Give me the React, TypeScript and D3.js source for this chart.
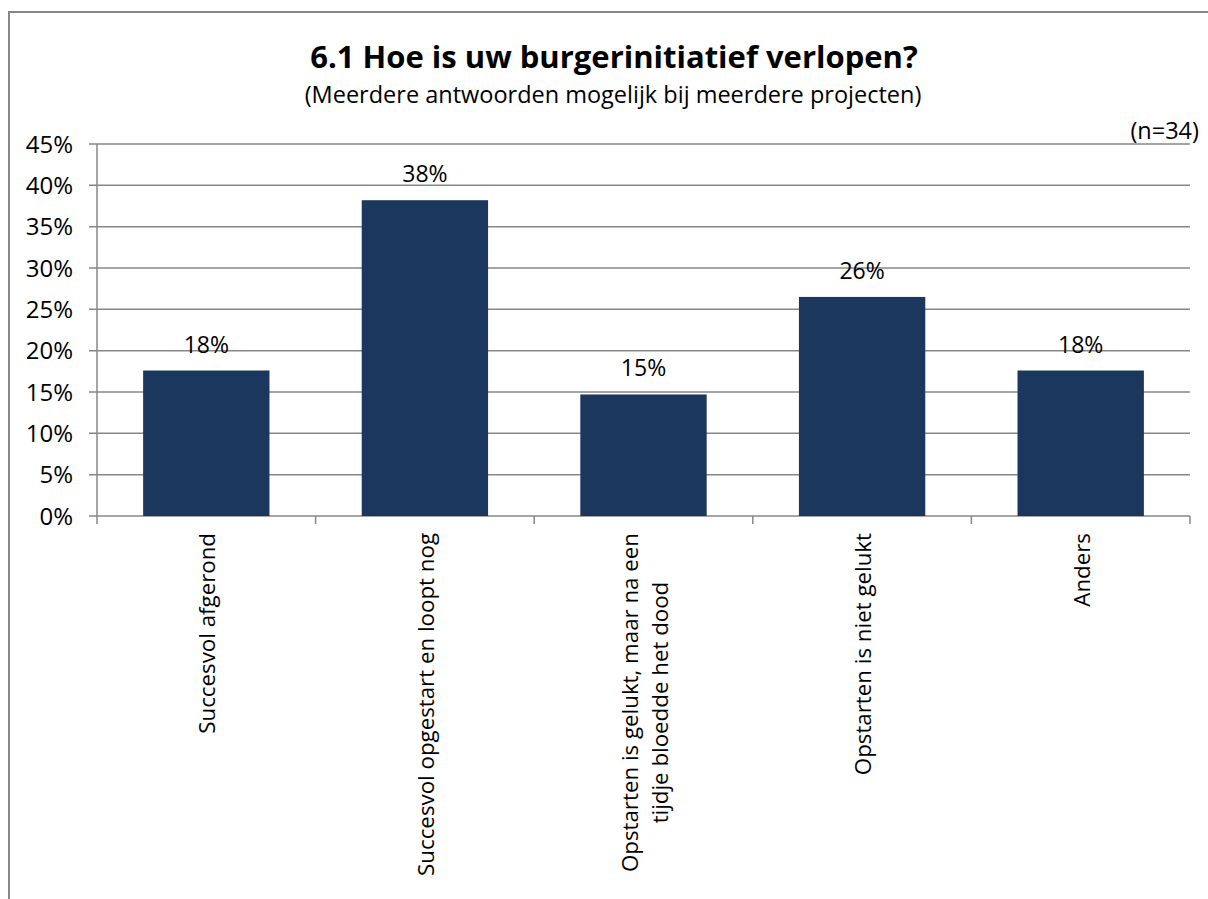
import React from 'react';
import * as d3 from 'd3';

// chart values
const categories = [
    ['Succesvol afgerond'],
    ['Succesvol opgestart en loopt nog'],
    ['Opstarten is gelukt, maar na een', 'tijdje bloedde het dood'],
    ['Opstarten is niet gelukt'],
    ['Anders'],
];
const values = [0.176, 0.382, 0.147, 0.265, 0.176];
const valueLabels = ['18%', '38%', '15%', '26%', '18%'];
const yTicks = [0, 0.05, 0.1, 0.15, 0.2, 0.25, 0.3, 0.35, 0.4, 0.45];

const title = '6.1 Hoe is uw burgerinitiatief verlopen?';
const subtitle = '(Meerdere antwoorden mogelijk bij meerdere projecten)';
const nLabel = '(n=34)';

const FONT = '"Open Sans", sans-serif';
const BAR = '#1b375d';
const GRID = '#878787';

function measure(text: string, size: number) {
    const c = document.createElement('canvas').getContext('2d');
    if (!c) return text.length * size * 0.5;
    c.font = `${size}px "Open Sans"`;
    return c.measureText(text).width;
}

export default function App() {
    const width = 1208, height = 899;
    const left = 97, right = 1190, top = 144, bottom = 516;

    const x = d3.scaleBand<number>()
        .domain(values.map((d, i) => i))
        .range([left, right])
        .padding(0);
    const y = d3.scaleLinear().domain([0, 0.45]).range([bottom, top]);
    const barW = x.bandwidth() * 0.578;
    const fmt = d3.format('.0%');

    const labelSize = 23;
    const catSize = 22.3;

    return (
        <div style={{ position: 'fixed', left: 0, top: 0 }}>
            <svg width={width} height={height} style={{ display: 'block', background: '#fff' }} fontFamily={FONT}>
                <rect x={9} y={12} width={1220} height={900} fill="#fff" stroke={GRID} strokeWidth={2} />

                <text x={614} y={68} textAnchor="middle" fontSize={31} fontWeight="bold" fill="#000">{title}</text>
                <text x={613} y={103} textAnchor="middle" fontSize={23.5} fill="#000">{subtitle}</text>
                <text x={1199} y={139} textAnchor="end" fontSize={23.5} fill="#000">{nLabel}</text>

                {/* gridlines + y ticks */}
                {yTicks.map(t => (
                    <g key={t}>
                        <line x1={left - 8} x2={right} y1={y(t)} y2={y(t)} stroke={GRID} strokeWidth={1.5} />
                        <text x={73} y={y(t)} dy="0.36em" textAnchor="end" fontSize={24} fill="#000">{fmt(t)}</text>
                    </g>
                ))}
                <line x1={left} x2={left} y1={top} y2={bottom} stroke={GRID} strokeWidth={1.5} />
                {/* x ticks at band edges */}
                {values.map((d, i) => (
                    <line key={i} x1={(x(i) as number) + x.bandwidth()} x2={(x(i) as number) + x.bandwidth()}
                        y1={bottom} y2={bottom + 8} stroke={GRID} strokeWidth={1.5} />
                ))}
                <line x1={left} x2={left} y1={bottom} y2={bottom + 8} stroke={GRID} strokeWidth={1.5} />

                {/* bars */}
                {values.map((v, i) => {
                    const cx = (x(i) as number) + x.bandwidth() / 2;
                    return (
                        <g key={i}>
                            <rect x={cx - barW / 2} y={y(v)} width={barW} height={bottom - y(v)} fill={BAR} />
                            <text x={cx} y={y(v) - 18} textAnchor="middle" fontSize={labelSize} fill="#000">{valueLabels[i]}</text>
                        </g>
                    );
                })}

                {/* category labels, rotated */}
                {categories.map((lines, i) => {
                    const cx = (x(i) as number) + x.bandwidth() / 2;
                    const lh = 30;
                    const w0 = measure(lines[0], catSize);
                    return lines.map((ln, j) => {
                        const off = (w0 - measure(ln, catSize)) / 2;
                        const bx = cx + (j - (lines.length - 1) / 2) * lh + 9;
                        const by = 533 + off;
                        return (
                            <text key={i + '-' + j} transform={`translate(${bx},${by}) rotate(-90)`}
                                textAnchor="end" fontSize={catSize} fill="#000">{ln}</text>
                        );
                    });
                })}
            </svg>
        </div>
    );
}
